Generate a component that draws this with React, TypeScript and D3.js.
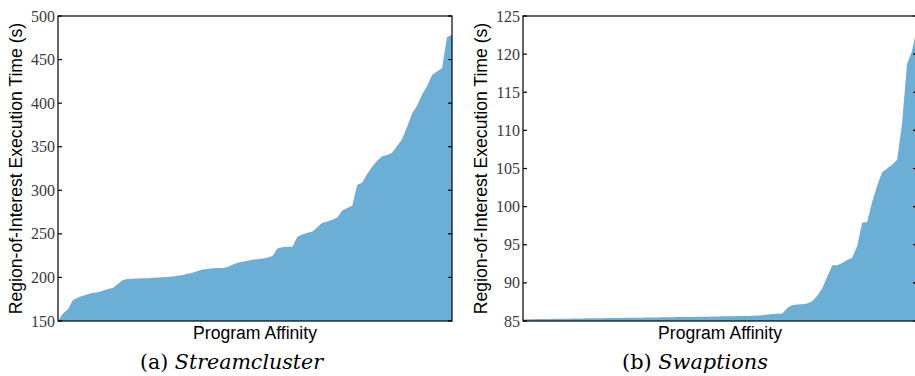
import React from "react";
import * as d3 from "d3";

const streamclusterTimes: number[] = [
  150, 158.5, 163.4, 174, 177.1, 178.9, 180.6, 182.3, 183.1, 184.6,
  186.7, 187.8, 192.5, 197, 198.1, 198.5, 198.8, 199, 199.2, 199.5,
  199.8, 200.2, 200.6, 201.2, 201.8, 202.8, 204.1, 205.4, 207.3, 209,
  209.6, 210.4, 210.7, 210.9, 212, 214.5, 216.8, 217.9, 219.2, 220.3,
  221, 221.8, 223, 224.5, 233.3, 234.7, 235.2, 235.2, 246.7, 249.4,
  251.3, 252.4, 257.5, 262.7, 264.3, 266.2, 268.8, 276.8, 279.8, 282.3,
  306, 308.8, 318.7, 327.3, 334, 339, 340.5, 343, 350.7, 358.9,
  373, 388.3, 397, 409.9, 419.5, 432.2, 436.2, 440, 476, 478.6,
];

const swaptionsTimes: number[] = [
  85.2, 85.22, 85.24, 85.25, 85.26, 85.27, 85.28, 85.29, 85.3, 85.31,
  85.32, 85.33, 85.34, 85.35, 85.36, 85.37, 85.37, 85.38, 85.39, 85.4,
  85.4, 85.41, 85.42, 85.43, 85.44, 85.45, 85.46, 85.47, 85.48, 85.49,
  85.5, 85.51, 85.52, 85.53, 85.54, 85.55, 85.56, 85.57, 85.58, 85.6,
  85.61, 85.62, 85.63, 85.64, 85.65, 85.67, 85.7, 85.72, 85.74, 85.85,
  85.92, 85.95, 86.0, 86.7, 87.1, 87.15, 87.2, 87.3, 87.6, 88.3,
  89.3, 90.8, 92.3, 92.3, 92.6, 93.0, 93.3, 94.8, 97.9, 98.0,
  100.6, 102.7, 104.5, 105.0, 105.5, 106.1, 110.8, 118.7, 120.4, 123.5,
];

const streamclusterTicks: number[] = [150, 200, 250, 300, 350, 400, 450, 500];
const swaptionsTicks: number[] = [85, 90, 95, 100, 105, 110, 115, 120, 125];

const yAxisLabel = "Region-of-Interest Execution Time (s)";
const xAxisLabel = "Program Affinity";

const FILL = "#6baed6";
const SANS = "'Liberation Sans', Arial, Helvetica, sans-serif";
const SERIF = "'Liberation Serif', 'Times New Roman', serif";
const CAPTION_SERIF = "'DejaVu Serif', 'Liberation Serif', serif";

type PanelProps = {
  values: number[];
  domain: [number, number];
  ticks: number[];
  left: number;
  right: number;
  top: number;
  bottom: number;
  yLabelX: number;
  captionX: number;
  captionWidth: number;
  captionTag: string;
  captionName: string;
  clipId: string;
};

function Panel(p: PanelProps) {
  const x = d3
    .scaleLinear()
    .domain([0, p.values.length - 1])
    .range([p.left, p.right]);
  const y = d3.scaleLinear().domain(p.domain).range([p.bottom, p.top]);
  const area = d3
    .area<number>()
    .x((_, i) => x(i))
    .y0(y(p.domain[0]))
    .y1((d) => y(d));
  const tickLen = 4;
  return (
    <g>
      <defs>
        <clipPath id={p.clipId}>
          <rect x={p.left} y={p.top} width={p.right - p.left} height={p.bottom - p.top} />
        </clipPath>
      </defs>
      <path d={area(p.values) || ""} fill={FILL} clipPath={`url(#${p.clipId})`} />
      <rect
        x={p.left}
        y={p.top}
        width={p.right - p.left}
        height={p.bottom - p.top}
        fill="none"
        stroke="#000"
        strokeWidth={1.2}
      />
      {p.ticks.map((t) => (
        <g key={t}>
          <line x1={p.left} x2={p.left + tickLen} y1={y(t)} y2={y(t)} stroke="#000" strokeWidth={1.2} />
          <line x1={p.right} x2={p.right - tickLen} y1={y(t)} y2={y(t)} stroke="#000" strokeWidth={1.2} />
          <text
            x={p.left - 3}
            y={y(t)}
            textAnchor="end"
            dominantBaseline="central"
            fontFamily={SERIF}
            fontSize={16}
            fill="#3a3a3a"
          >
            {t}
          </text>
        </g>
      ))}
      <text
        transform={`translate(${p.yLabelX},${(p.top + p.bottom) / 2}) rotate(-90)`}
        textAnchor="middle"
        dominantBaseline="central"
        fontFamily={SANS}
        fontSize={17.6}
        fill="#000"
      >
        {yAxisLabel}
      </text>
      <text
        x={(p.left + p.right) / 2}
        y={p.bottom + 18}
        textAnchor="middle"
        fontFamily={SANS}
        fontSize={17.6}
        fill="#000"
      >
        {xAxisLabel}
      </text>
      <text
        x={p.captionX - p.captionWidth / 2}
        y={369}
        textLength={p.captionWidth}
        lengthAdjust="spacingAndGlyphs"
        fontFamily={CAPTION_SERIF}
        fontSize={20}
        fill="#000"
      >
        <tspan>{p.captionTag} </tspan>
        <tspan fontStyle="italic">{p.captionName}</tspan>
      </text>
    </g>
  );
}

export default function App() {
  return (
    <svg
      width={915}
      height={376}
      style={{ position: "absolute", left: 0, top: 0, background: "#fff" }}
    >
      <rect width={915} height={376} fill="#fff" />
      <Panel
        values={streamclusterTimes}
        domain={[150, 500]}
        ticks={streamclusterTicks}
        left={58}
        right={452}
        top={16}
        bottom={321}
        yLabelX={16}
        captionX={231.5}
        captionWidth={183}
        captionTag="(a)"
        captionName="Streamcluster"
        clipId="clipA"
      />
      <Panel
        values={swaptionsTimes}
        domain={[85, 125]}
        ticks={swaptionsTicks}
        left={523}
        right={917}
        top={16}
        bottom={321}
        yLabelX={481}
        captionX={695}
        captionWidth={146}
        captionTag="(b)"
        captionName="Swaptions"
        clipId="clipB"
      />
    </svg>
  );
}
